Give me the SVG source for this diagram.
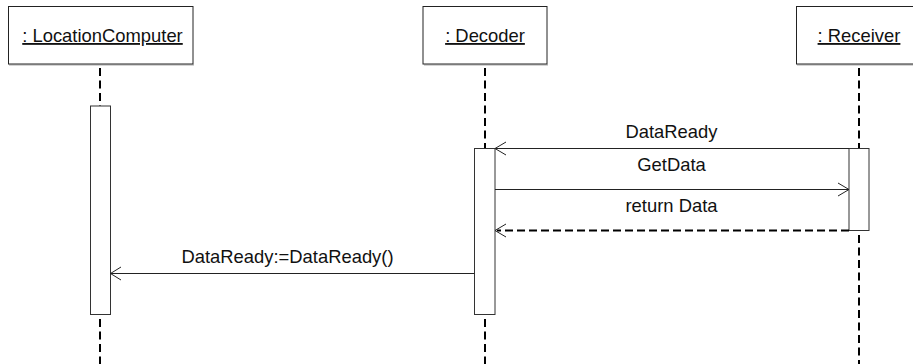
<svg xmlns="http://www.w3.org/2000/svg" width="913" height="364" viewBox="0 0 913 364">
<style>
.box{fill:#fff;stroke:#222;stroke-width:1}
.shadow{fill:none;stroke:#aaa;stroke-width:1}
.life{stroke:#000;stroke-width:2;stroke-dasharray:8 4.5;fill:none}
.act{fill:#fff;stroke:#333;stroke-width:1}
.msg{stroke:#222;stroke-width:1;fill:none}
.ret{stroke:#000;stroke-width:1.8;stroke-dasharray:8 4;fill:none}
.head{stroke:#222;stroke-width:1;fill:none}
text{font-family:"Liberation Sans",Arial,sans-serif;font-size:18.4px;fill:#111;text-anchor:middle}
.name{text-decoration:underline}
</style>
<g id="connectors">
<line class="life" x1="100" y1="68" x2="100" y2="106"/>
<line class="life" x1="100" y1="319" x2="100" y2="364"/>
<line class="life" x1="485" y1="68" x2="485" y2="148"/>
<line class="life" x1="485" y1="319" x2="485" y2="364"/>
<line class="life" x1="859" y1="68" x2="859" y2="148"/>
<line class="life" x1="859" y1="235" x2="859" y2="364"/>
</g>
<g id="node-locationcomputer">
<line class="shadow" x1="9" y1="65" x2="194" y2="65"/>
<rect class="box" x="8.5" y="6.5" width="184.5" height="57.5"/>
<text class="name" x="102.5" y="42">: LocationComputer</text>
</g>
<g id="node-decoder">
<line class="shadow" x1="424" y1="65" x2="548" y2="65"/>
<rect class="box" x="423" y="6.5" width="124" height="57.5"/>
<text class="name" x="485" y="42">: Decoder</text>
</g>
<g id="node-receiver">
<line class="shadow" x1="797" y1="65" x2="913" y2="65"/>
<rect class="box" x="796.5" y="6.5" width="126" height="57.5"/>
<text class="name" x="859" y="42">: Receiver</text>
</g>
<g id="activation-locationcomputer">
<rect class="act" x="90.5" y="106" width="20" height="208.5"/>
</g>
<g id="activation-decoder">
<rect class="act" x="474.5" y="148.5" width="20.5" height="166"/>
</g>
<g id="activation-receiver">
<rect class="act" x="849" y="148.5" width="20" height="82"/>
</g>
<g id="messages">
<line class="msg" x1="849" y1="148.5" x2="495" y2="148.5"/>
<polyline class="head" points="506,142 495,148.5 506,155"/>
<text x="671.5" y="138">DataReady</text>
<line class="msg" x1="495" y1="189.5" x2="849" y2="189.5"/>
<polyline class="head" points="838,183 849,189.5 838,196"/>
<text x="671.5" y="171">GetData</text>
<line class="ret" x1="849" y1="230.5" x2="497" y2="230.5"/>
<polyline class="head" points="506,224 495,230.5 506,237"/>
<text x="671.5" y="211.5">return Data</text>
<line class="msg" x1="474.5" y1="273.5" x2="110.5" y2="273.5"/>
<polyline class="head" points="121,267 110.5,273.5 121,280"/>
<text x="287.5" y="262.5">DataReady:=DataReady()</text>
</g>
</svg>
